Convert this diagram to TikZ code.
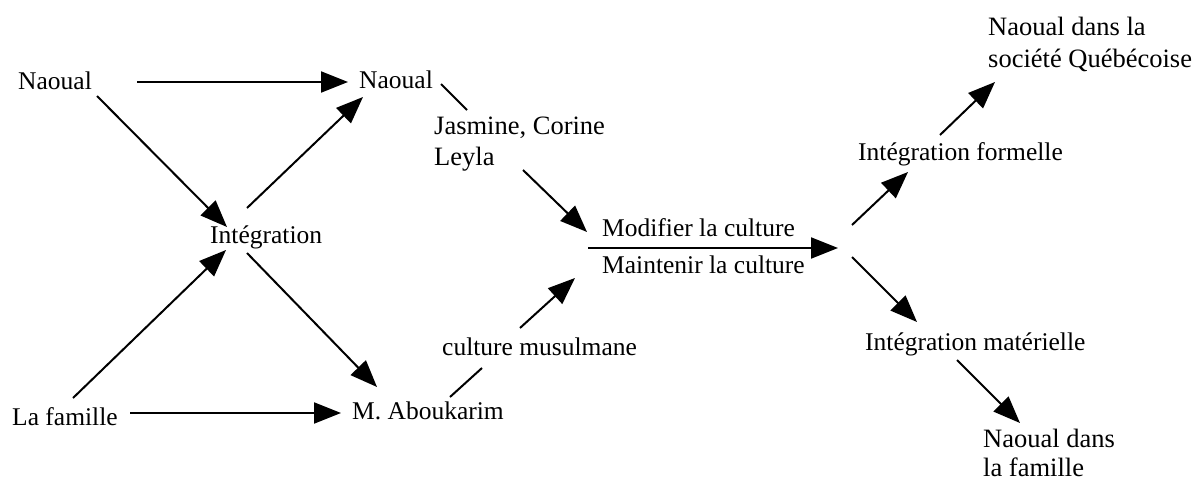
\documentclass[tikz,border=0pt]{standalone}
\usepackage{fontspec}
\setmainfont{Liberation Serif}
\usetikzlibrary{arrows.meta}
\begin{document}
\begin{tikzpicture}[x=1pt,y=-1pt,
  pix/.style={inner sep=0pt, anchor=base west, font=\fontsize{25.5}{30}\selectfont},
  tms/.style={inner sep=0pt, anchor=north west, align=left},
  arr/.style={line width=2pt, -{Triangle[length=27pt,width=21pt]}},
  ln/.style={line width=2pt}]
\useasboundingbox (0,0) rectangle (1195,482);

% bitmap-style labels
\node[pix] (naoL)  at (18,89)   {Naoual};
\node[pix] (naoM)  at (359,88)  {Naoual};
\node[pix] (integ) at (210,243) {Intégration};
\node[pix] (fam)   at (12,425)  {La famille};
\node[pix] (abou)  at (352,419) {M. Aboukarim};
\node[pix] (cmus)  at (442,355) {culture musulmane};
\node[pix] (modif) at (602,236) {Modifier la culture};
\node[pix] (maint) at (602,273) {Maintenir la culture};
\node[pix] (iform) at (858,160) {Intégration formelle};
\node[pix] (imat)  at (865,350) {Intégration matérielle};

% Times-style labels
\node[tms, font=\fontsize{26.5}{31}\selectfont] (jas) at (434,117) {Jasmine, Corine\\Leyla};
\node[tms, font=\fontsize{26.5}{32}\selectfont] (soc) at (988,17) {Naoual dans la\\société Québécoise};
\node[tms, font=\fontsize{26.5}{29}\selectfont] (nfam) at (983,429) {Naoual dans\\la famille};

% connector end points
\coordinate (a1s) at (137,82);  \coordinate (a1e) at (348,82);
\coordinate (a2s) at (97,96);   \coordinate (a2e) at (227,227);
\coordinate (a3s) at (247,208); \coordinate (a3e) at (363,97);
\coordinate (a4s) at (73,398);  \coordinate (a4e) at (226,250);
\coordinate (a5s) at (247,253); \coordinate (a5e) at (377,387);
\coordinate (a6s) at (130,413); \coordinate (a6e) at (341,413);
\coordinate (l1s) at (441,84);  \coordinate (l1e) at (467,110);
\coordinate (a7s) at (523,170); \coordinate (a7e) at (587,232);
\coordinate (l2s) at (450,397); \coordinate (l2e) at (482,368);
\coordinate (a8s) at (520,328); \coordinate (a8e) at (575,278);
\coordinate (a9s) at (588,248); \coordinate (a9e) at (838,248);
\coordinate (b1s) at (852,225); \coordinate (b1e) at (908,172);
\coordinate (b2s) at (940,135); \coordinate (b2e) at (995,82);
\coordinate (b3s) at (852,257); \coordinate (b3e) at (917,322);
\coordinate (b4s) at (957,360); \coordinate (b4e) at (1020,423);

\draw[arr] (a1s) -- (a1e);
\draw[arr] (a2s) -- (a2e);
\draw[arr] (a3s) -- (a3e);
\draw[arr] (a4s) -- (a4e);
\draw[arr] (a5s) -- (a5e);
\draw[arr] (a6s) -- (a6e);
\draw[ln]  (l1s) -- (l1e);
\draw[arr] (a7s) -- (a7e);
\draw[ln]  (l2s) -- (l2e);
\draw[arr] (a8s) -- (a8e);
\draw[arr] (a9s) -- (a9e);
\draw[arr] (b1s) -- (b1e);
\draw[arr] (b2s) -- (b2e);
\draw[arr] (b3s) -- (b3e);
\draw[arr] (b4s) -- (b4e);
\end{tikzpicture}
\end{document}
